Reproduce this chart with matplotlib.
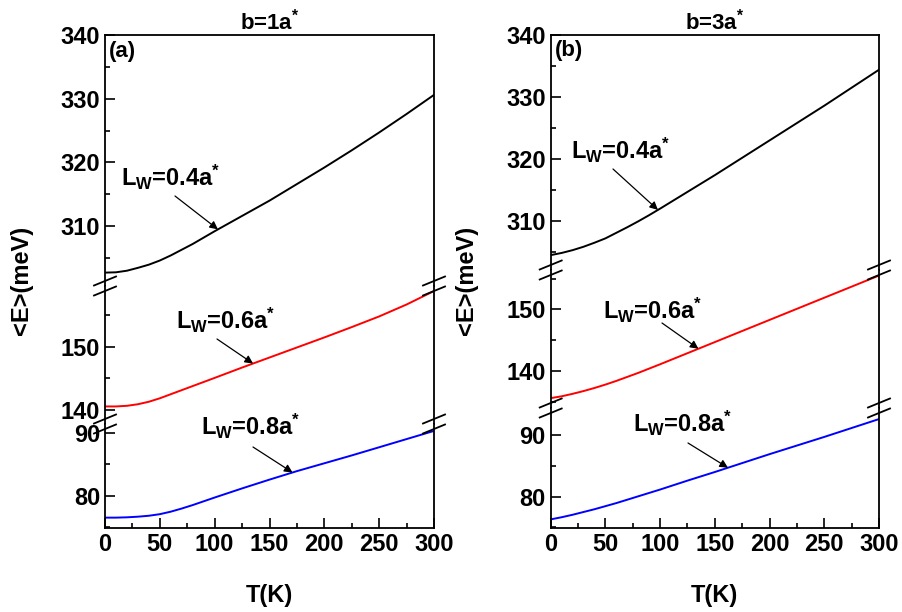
import matplotlib
matplotlib.use("Agg")
import matplotlib.pyplot as plt
from matplotlib.ticker import MultipleLocator
from matplotlib.lines import Line2D

plt.rcParams['font.family'] = ['Liberation Sans', 'DejaVu Sans']
plt.rcParams['font.weight'] = 'bold'
plt.rcParams['axes.labelweight'] = 'bold'
plt.rcParams['axes.titleweight'] = 'bold'
plt.rcParams['mathtext.fontset'] = 'custom'
plt.rcParams['mathtext.rm'] = 'Liberation Sans:bold'
plt.rcParams['mathtext.bf'] = 'Liberation Sans:bold'
plt.rcParams['mathtext.it'] = 'Liberation Sans:bold'

# temperature (K)
T = [0, 10, 20, 30, 40, 50, 60, 70, 80, 90, 100,
     125, 150, 175, 200, 225, 250, 275, 300]

# panel (a): b = 1a*
a_04 = [302.7, 302.75, 303.0, 303.45, 303.95, 304.6, 305.4, 306.3, 307.2, 308.2, 309.2,
        311.6, 314.0, 316.6, 319.2, 321.9, 324.7, 327.6, 330.6]
a_06 = [140.5, 140.5, 140.6, 140.85, 141.25, 141.8, 142.45, 143.1, 143.75, 144.4, 145.05,
        146.7, 148.3, 149.9, 151.5, 153.15, 154.85, 156.75, 158.9]
a_08 = [76.5, 76.5, 76.55, 76.65, 76.8, 77.05, 77.45, 77.95, 78.5, 79.1, 79.7,
        81.15, 82.55, 83.9, 85.15, 86.4, 87.7, 89.0, 90.3]

# panel (b): b = 3a*
b_04 = [304.5, 304.85, 305.3, 305.85, 306.5, 307.2, 308.1, 309.0, 309.95, 310.95, 312.0,
        314.7, 317.4, 320.2, 323.0, 325.8, 328.6, 331.5, 334.4]
b_06 = [135.6, 135.9, 136.3, 136.75, 137.25, 137.8, 138.4, 139.05, 139.7, 140.4, 141.1,
        142.9, 144.7, 146.5, 148.3, 150.1, 151.9, 153.7, 155.5]
b_08 = [76.3, 76.65, 77.05, 77.5, 77.95, 78.45, 78.95, 79.5, 80.05, 80.6, 81.15,
        82.6, 84.0, 85.45, 86.9, 88.3, 89.7, 91.15, 92.6]

W, H = 902, 612
fig = plt.figure(figsize=(W / 100, H / 100), dpi=100)


def px(x, y):
    return x / W, 1 - y / H


def seg_axes(x0, x1, ytop, ybot):
    return fig.add_axes([x0 / W, 1 - ybot / H, (x1 - x0) / W, (ybot - ytop) / H])


def style(ax, pos):
    ax.set_xlim(0, 300)
    ax.yaxis.set_major_locator(MultipleLocator(10))
    ax.yaxis.set_minor_locator(MultipleLocator(5))
    ax.xaxis.set_major_locator(MultipleLocator(50))
    ax.xaxis.set_minor_locator(MultipleLocator(25))
    ax.tick_params(which='both', direction='in', width=1.2, labelsize=17,
                   right=False, top=False)
    ax.tick_params(which='major', length=7)
    ax.tick_params(which='minor', length=3.5)
    for s in ax.spines.values():
        s.set_linewidth(1.3)
    if pos != 'bottom':
        ax.spines['bottom'].set_visible(False)
        ax.tick_params(axis='x', which='both', bottom=False, labelbottom=False)
    if pos != 'top':
        ax.spines['top'].set_visible(False)


def break_marks(x0, x1, yb):
    for x in (x0, x1):
        for dy in (-5, 5):
            fig.add_artist(Line2D([(x - 11) / W, (x + 11) / W],
                                  [1 - (yb + dy + 4.5) / H, 1 - (yb + dy - 4.5) / H],
                                  color='black', lw=1.3))


def label(text, ax, xy_data, tail, pos):
    fig.text(*px(*pos), text, fontsize=17, ha='left', va='center')
    ax.annotate('', xy=xy_data, xycoords='data',
                xytext=px(*tail), textcoords='figure fraction',
                arrowprops=dict(arrowstyle='-|>', color='black', lw=0.9,
                                mutation_scale=12, shrinkA=0, shrinkB=0))


panels = [
    dict(x0=105, x1=434, bounds=(35, 286, 424, 528),
         ylims=[(300.6, 340), (137.7, 159.7), (74.85, 91.4)],
         data=[a_04, a_06, a_08], title=r'b=1a$^{*}$', tag='(a)',
         ylab_x=22,
         labels=[((121, 177), (175, 196), 103),
                 ((176, 320), (217, 339), 135),
                 ((201, 426), (253, 447), 171)]),
    dict(x0=550.7, x1=879, bounds=(35, 270, 408, 528),
         ylims=[(302.1, 340), (134.0, 156.4), (74.9, 94.4)],
         data=[b_04, b_06, b_08], title=r'b=3a$^{*}$', tag='(b)',
         ylab_x=467,
         labels=[((571, 150), (613, 169), 98),
                 ((603, 310), (662, 323), 135),
                 ((633, 423), (688, 443), 162)]),
]

colors = ['black', 'red', 'blue']
names = [r'L$_{\mathregular{W}}$=0.4a$^{*}$', r'L$_{\mathregular{W}}$=0.6a$^{*}$',
         r'L$_{\mathregular{W}}$=0.8a$^{*}$']

for p in panels:
    b = p['bounds']
    axes = []
    for i in range(3):
        ax = seg_axes(p['x0'], p['x1'], b[i], b[i + 1])
        pos = ['top', 'mid', 'bottom'][i]
        ax.plot(T, p['data'][i], color=colors[i], lw=1.4)
        ax.set_ylim(*p['ylims'][i])
        style(ax, pos)
        axes.append(ax)
    break_marks(p['x0'], p['x1'], b[1])
    break_marks(p['x0'], p['x1'], b[2])
    axes[0].set_title(p['title'], fontsize=16, pad=4)
    axes[0].text(0.012, 0.935, p['tag'], transform=axes[0].transAxes,
                 fontsize=16, ha='left', va='center')
    axes[2].set_xlabel('T(K)', fontsize=17, labelpad=20)
    fig.text(*px(p['ylab_x'], 280), '<E>(meV)', rotation=90, fontsize=17,
             ha='center', va='center')
    for i, (tpos, tail, tx) in enumerate(p['labels']):
        y = p['data'][i]
        # arrow head sits on the curve
        k = max(j for j in range(len(T)) if T[j] <= tx)
        yv = y[k] + (y[k + 1] - y[k]) * (tx - T[k]) / (T[k + 1] - T[k])
        label(names[i], axes[i], (tx, yv), tail, tpos)

fig.savefig('out.png', dpi=100)
